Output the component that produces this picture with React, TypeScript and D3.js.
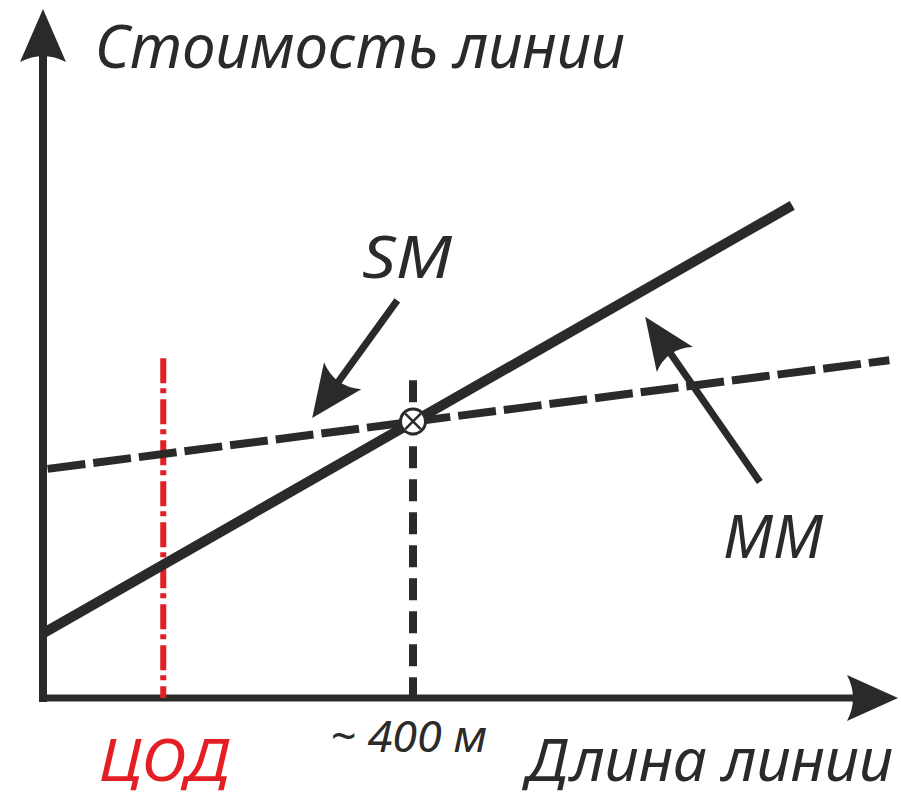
import React from "react";
import * as d3 from "d3";

// ---- data (length in metres, cost in relative units) ----
const lengthDomain = [0, 400];
const costDomain = [0, 100];
const smLength = [5, 915];
const smCost = [33.3, 49.1];
const mmLength = [0, 810];
const mmCost = [9.4, 71.6];
const crossLength = [400];
const crossCost = [40.2];
const codLength = [130];
const codTopCost = [49.4];
const crossTopCost = [46.2];
const smArrowLength = [383, 291];
const smArrowCost = [57.8, 40.7];
const mmArrowLength = [775, 651];
const mmArrowCost = [31.4, 55.4];
const texts = ["Стоимость линии", "Длина линии", "SM", "MM", "~ 400 м", "ЦОД"];

const INK = "#2b2a29";
const RED = "#e31e24";
const FONT = "'Noto Sans', 'Open Sans', 'Liberation Sans', sans-serif";

function arrowHead(tail: [number, number], tip: [number, number], L: number, W: number, n: number) {
  const dx = tip[0] - tail[0];
  const dy = tip[1] - tail[1];
  const len = Math.hypot(dx, dy);
  const ux = dx / len, uy = dy / len;
  const px = -uy, py = ux;
  const bx = tip[0] - ux * L, by = tip[1] - uy * L;
  const b1 = [bx + px * W, by + py * W];
  const b2 = [bx - px * W, by - py * W];
  const c = [bx + ux * 2 * n, by + uy * 2 * n];
  const neck: [number, number] = [tip[0] - ux * (L - n - 2), tip[1] - uy * (L - n - 2)];
  const d = `M${tip[0]},${tip[1]}L${b1[0]},${b1[1]}Q${c[0]},${c[1]} ${b2[0]},${b2[1]}Z`;
  return { d, neck };
}

export default function App() {
  const x = d3.scaleLinear().domain(lengthDomain).range([43, 413]);
  const y = d3.scaleLinear().domain(costDomain).range([698, 10]);
  const line = d3.line<[number, number]>().x(d => x(d[0])).y(d => y(d[1]));

  const smPts: [number, number][] = smLength.map((l, i) => [l, smCost[i]]);
  const mmPts: [number, number][] = mmLength.map((l, i) => [l, mmCost[i]]);

  const yAxisHead = arrowHead([43, 700], [43, 9], 53, 23, 6);
  const xAxisHead = arrowHead([39, 698], [898, 698], 51, 23, 6);

  const smTail: [number, number] = [x(smArrowLength[0]), y(smArrowCost[0])];
  const smTip: [number, number] = [x(smArrowLength[1]), y(smArrowCost[1])];
  const mmTail: [number, number] = [x(mmArrowLength[0]), y(mmArrowCost[0])];
  const mmTip: [number, number] = [x(mmArrowLength[1]), y(mmArrowCost[1])];
  const smHead = arrowHead(smTail, smTip, 52, 23, 7);
  const mmHead = arrowHead(mmTail, mmTip, 52, 22, 7);

  const cx = x(crossLength[0]);
  const cy = y(crossCost[0]);
  const r = 12.5;
  const k = r * 0.62;

  return (
    <svg width={901} height={798} style={{ position: "absolute", left: 0, top: 0, background: "#fff" }}>
      <rect width={901} height={798} fill="#fff" />
      {/* axes */}
      <line x1={43} y1={702} x2={43} y2={yAxisHead.neck[1]} stroke={INK} strokeWidth={8} />
      <path d={yAxisHead.d} fill={INK} />
      <line x1={39} y1={698} x2={xAxisHead.neck[0]} y2={698} stroke={INK} strokeWidth={7} />
      <path d={xAxisHead.d} fill={INK} />

      {/* ЦОД red dash-dot */}
      <line x1={x(codLength[0])} x2={x(codLength[0])} y1={y(codTopCost[0])} y2={y(0)}
        stroke={RED} strokeWidth={6} strokeDasharray="25 5 5 6" />
      {/* crossing vertical dashed */}
      <line x1={cx} x2={cx} y1={y(crossTopCost[0])} y2={y(0) - 3}
        stroke={INK} strokeWidth={8} strokeDasharray="22 11" />

      {/* SM dashed line */}
      <path d={line(smPts) || ""} fill="none" stroke={INK} strokeWidth={8} strokeDasharray="38 8" />
      {/* MM solid line */}
      <path d={line(mmPts) || ""} fill="none" stroke={INK} strokeWidth={10} />

      {/* crossing marker */}
      <circle cx={cx} cy={cy} r={r} fill="#fff" stroke={INK} strokeWidth={3} />
      <line x1={cx - k} y1={cy - k} x2={cx + k} y2={cy + k} stroke={INK} strokeWidth={2.5} />
      <line x1={cx - k} y1={cy + k} x2={cx + k} y2={cy - k} stroke={INK} strokeWidth={2.5} />

      {/* annotation arrows */}
      <line x1={smTail[0]} y1={smTail[1]} x2={smHead.neck[0]} y2={smHead.neck[1]} stroke={INK} strokeWidth={7} />
      <path d={smHead.d} fill={INK} />
      <line x1={mmTail[0]} y1={mmTail[1]} x2={mmHead.neck[0]} y2={mmHead.neck[1]} stroke={INK} strokeWidth={7} />
      <path d={mmHead.d} fill={INK} />

      {/* texts */}
      <g fontFamily={FONT} fontStyle="italic" fill={INK}>
        <text x={95} y={68} fontSize={60} textLength={530} lengthAdjust="spacingAndGlyphs">{texts[0]}</text>
        <text x={527} y={781} fontSize={58} textLength={366} lengthAdjust="spacingAndGlyphs">{texts[1]}</text>
        <text x={362} y={278} fontSize={58} textLength={90} lengthAdjust="spacingAndGlyphs">{texts[2]}</text>
        <text x={723} y={558} fontSize={60} textLength={100} lengthAdjust="spacingAndGlyphs">{texts[3]}</text>
        <text x={330} y={752} fontSize={44} textLength={157} lengthAdjust="spacingAndGlyphs">{texts[4]}</text>
        <text x={99} y={781} fontSize={58} textLength={131} lengthAdjust="spacingAndGlyphs" fill={RED}>{texts[5]}</text>
      </g>
    </svg>
  );
}
